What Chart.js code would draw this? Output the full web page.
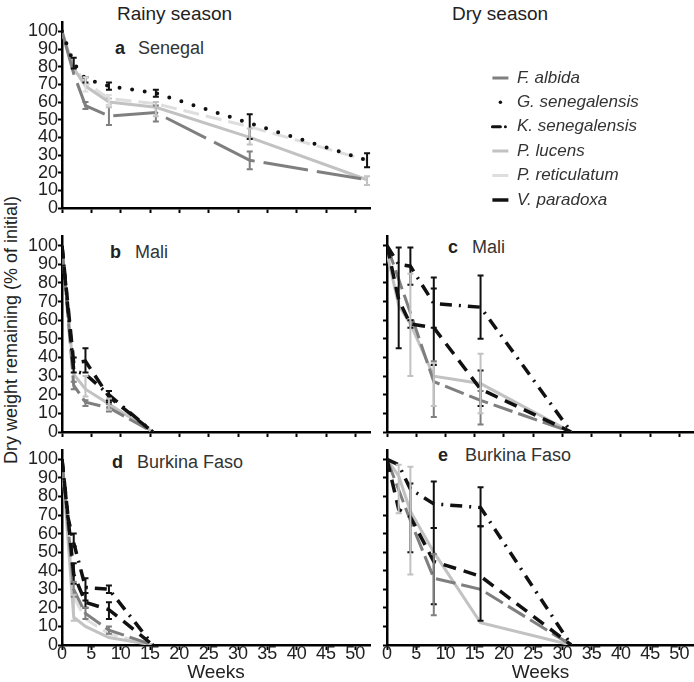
<!DOCTYPE html>
<html><head><meta charset="utf-8">
<script src="https://cdn.jsdelivr.net/npm/chart.js@4.4.1/dist/chart.umd.min.js"></script>
<style>
html,body{margin:0;padding:0;background:#fff;width:694px;height:682px;overflow:hidden;}
canvas{position:absolute;}
.t{position:absolute;font-family:'Liberation Sans',Arial,Helvetica,sans-serif;color:#222;white-space:nowrap;line-height:1;}
</style></head><body>
<div class="t" style="left:117px;top:4px;font-size:19px">Rainy season</div>
<div class="t" style="left:452px;top:4px;font-size:19px">Dry season</div>
<div class="t" style="left:11px;top:330px;font-size:18px;transform:translate(-50%,-50%) rotate(-90deg)">Dry weight remaining (% of initial)</div>
<div class="t" style="left:115px;top:39px;font-size:18px"><b>a</b></div>
<div class="t" style="left:138px;top:39px;font-size:18px;color:#333">Senegal</div>
<div class="t" style="left:110px;top:243px;font-size:18px"><b>b</b></div>
<div class="t" style="left:135px;top:243px;font-size:18px;color:#333">Mali</div>
<div class="t" style="left:448px;top:238px;font-size:18px"><b>c</b></div>
<div class="t" style="left:472px;top:238px;font-size:18px;color:#333">Mali</div>
<div class="t" style="left:112px;top:453px;font-size:18px"><b>d</b></div>
<div class="t" style="left:137px;top:453px;font-size:18px;color:#333">Burkina Faso</div>
<div class="t" style="left:438px;top:446px;font-size:18px"><b>e</b></div>
<div class="t" style="left:465px;top:446px;font-size:18px;color:#333">Burkina Faso</div>

<canvas id="pa" width="382" height="206.5" style="left:0;top:10px"></canvas>
<canvas id="pb" width="382" height="216" style="left:0;top:224px"></canvas>
<canvas id="pc" width="319" height="216" style="left:375px;top:224px"></canvas>
<canvas id="pd" width="382" height="244" style="left:0;top:438px"></canvas>
<canvas id="pe" width="319" height="244" style="left:375px;top:438px"></canvas>
<canvas id="lg" width="360" height="170" style="left:485px;top:62px"></canvas>

<script>
// ---------------- DATA ----------------
const speciesNames = ['F. albida', 'G. senegalensis', 'K. senegalensis', 'P. lucens', 'P. reticulatum', 'V. paradoxa'];
const yTickValues = [0, 10, 20, 30, 40, 50, 60, 70, 80, 90, 100];
const xTickValues = [0, 5, 10, 15, 20, 25, 30, 35, 40, 45, 50];

// a  Senegal, rainy season
const weeksA = [0, 2, 4, 8, 16, 32, 52];
const aFalbida       = [100, 76, 58, 52, 54, 27, 16];
const aGsenegalensis = [100, 82, 73, 69, 65, 48, 27];
const aPlucens       = [100, 79, 69, 60, 57, 40, 16];
const aPreticulatum  = [100, 80, 71, 62, 59, 46, 27];
const aFalbidaErr       = [null, null, [56, 60], [47, 58], [49, 58], [22, 32], null];
const aGsenegalensisErr = [null, [79, 85], [71, 74], [67, 71], [63, 67], [39, 53], [23, 31]];
const aPlucensErr       = [null, null, null, [57, 62], [52, 60], [36, 45], [13, 18]];
const aPreticulatumErr  = [null, null, [66, 74], [58, 64], null, null, null];

// b  Mali, rainy season
const weeksB = [0, 2, 4, 8, 15.5];
const bFalbida       = [100, 25, 16, 13, 0];
const bKsenegalensis = [100, 33, 31, 20, 0];
const bPlucens       = [100, 31, 23, 15, 0];
const bVparadoxa     = [100, 37, 38, 19, 0];
const bFalbidaErr       = [null, [23, 27], [14, 17], [11, 15], null];
const bKsenegalensisErr = [null, null, null, [16, 22], null];
const bPlucensErr       = [null, null, [19, 30], [12, 18], null];
const bVparadoxaErr     = [null, [32, 40], [32, 45], [17, 22], null];

// c  Mali, dry season
const weeksC = [0, 2, 4, 8, 16, 31.5];
const cFalbida       = [100, 82, 64, 27, 17, 0];
const cKsenegalensis = [100, 90, 89, 69, 67, 0];
const cPlucens       = [96, 68, 58, 30, 26, 0];
const cVparadoxa     = [100, 71, 58, 56, 23, 0];
const cFalbidaErr       = [null, null, null, [8, 38], [4, 22], null];
const cKsenegalensisErr = [null, null, [79, 99], [56, 83], [50, 84], null];
const cPlucensErr       = [null, null, [30, 85], [14, 37], [10, 42], null];
const cVparadoxaErr     = [null, [45, 99], [56, 60], [36, 77], [14, 33], null];

// d  Burkina Faso, rainy season
const weeksD = [0, 1, 2, 4, 8, 15.5];
const dFalbida       = [100, null, 30, 17, 8, 0];
const dKsenegalensis = [100, 69, 55, 31, 30, 0];
const dPlucens       = [100, null, 15, 10, 4, 0];
const dPreticulatum  = [100, null, 26, 14, 6, 0];
const dVparadoxa     = [100, 70, 38, 23, 19, 0];
const dFalbidaErr       = [null, null, [26, 34], [14, 20], [6, 10], null];
const dKsenegalensisErr = [null, null, [53, 60], [24, 36], [28, 32], null];
const dPlucensErr       = [null, null, [13, 27], null, null, null];
const dPreticulatumErr  = [null, null, null, null, null, null];
const dVparadoxaErr     = [null, null, [33, 44], [20, 28], [14, 23], null];

// e  Burkina Faso, dry season
const weeksE = [0, 2, 4, 8, 16, 31.5];
const eFalbida       = [100, null, 67, 36, 30, 0];
const eKsenegalensis = [100, 97, 84, 76, 74, 0];
const ePlucens       = [100, 91, 72, 50, 12, 0];
const eVparadoxa     = [100, 73, 69, 45, 37, 0];
const eFalbidaErr       = [null, null, null, [16, 49], null, null];
const eKsenegalensisErr = [null, null, null, [63, 88], [64, 85], null];
const ePlucensErr       = [null, [71, 97], [38, 96], null, null, null];
const eVparadoxaErr     = [null, null, [50, 87], [22, 63], [13, 64], null];

// ---------------- STYLES ----------------
const FONT = "'Liberation Sans', Arial, Helvetica, sans-serif";
const STYLE = {
  'F. albida':       {borderColor: '#7f7f7f', borderWidth: 3,   borderDash: [20, 6]},
  'G. senegalensis': {borderColor: '#111111', borderWidth: 4,   borderDash: [0, 12.7], borderCapStyle: 'round'},
  'K. senegalensis': {borderColor: '#111111', borderWidth: 3.5, borderDash: [12, 7, 2, 7]},
  'P. lucens':       {borderColor: '#c2c2c2', borderWidth: 3,   borderDash: []},
  'P. reticulatum':  {borderColor: '#dedede', borderWidth: 3,   borderDash: [16, 7]},
  'V. paradoxa':     {borderColor: '#111111', borderWidth: 3.5, borderDash: [13, 8]}
};
const LEGEND_MARK = {
  'F. albida':       {pointStyle: 'line', lineWidth: 3, lineDash: [], lineCap: 'butt'},
  'G. senegalensis': {pointStyle: 'line', lineWidth: 3.5, lineDash: [0, 40], lineDashOffset: -8, lineCap: 'round'},
  'K. senegalensis': {pointStyle: 'line', lineWidth: 3, lineDash: [8, 5, 0, 20], lineCap: 'round'},
  'P. lucens':       {pointStyle: 'line', lineWidth: 3, lineDash: [], lineCap: 'butt'},
  'P. reticulatum':  {pointStyle: 'line', lineWidth: 3, lineDash: [], lineCap: 'butt'},
  'V. paradoxa':     {pointStyle: 'line', lineWidth: 3.5, lineDash: [], lineCap: 'butt'}
};

function makeDataset(name, weeks, values, errs, extra) {
  const pts = [];
  weeks.forEach((w, i) => { if (values[i] !== null) pts.push({x: w, y: values[i]}); });
  const bars = [];
  if (errs) weeks.forEach((w, i) => { if (errs[i]) bars.push({x: w, lo: errs[i][0], hi: errs[i][1]}); });
  return Object.assign({label: name, data: pts, errorBars: bars, pointRadius: 0, pointHoverRadius: 0,
    tension: 0, fill: false}, STYLE[name], extra || {});
}

const errorBarPlugin = {
  id: 'errorBars',
  afterDatasetsDraw(chart) {
    const ctx = chart.ctx, xs = chart.scales.x, ys = chart.scales.y;
    chart.data.datasets.forEach(d => {
      (d.errorBars || []).forEach(e => {
        const x = xs.getPixelForValue(e.x), y1 = ys.getPixelForValue(e.lo), y2 = ys.getPixelForValue(e.hi);
        ctx.save();
        ctx.strokeStyle = d.borderColor; ctx.lineWidth = 2; ctx.setLineDash([]);
        ctx.beginPath();
        ctx.moveTo(x, y1); ctx.lineTo(x, y2);
        ctx.moveTo(x - 3, y1); ctx.lineTo(x + 3, y1);
        ctx.moveTo(x - 3, y2); ctx.lineTo(x + 3, y2);
        ctx.stroke();
        ctx.restore();
      });
    });
  }
};

function xAxis(showLabels, height) {
  return {
    type: 'linear', min: 0, max: 52.5,
    afterBuildTicks: s => { s.ticks = xTickValues.map(v => ({value: v})); },
    afterFit: s => { s.height = height; s.paddingLeft = 0; s.paddingRight = 0; },
    border: {display: true, color: '#000', width: 2.5},
    grid: {drawOnChartArea: false, drawTicks: true, tickLength: 5, tickColor: '#000', tickWidth: 2, color: '#000'},
    ticks: {display: showLabels, padding: -5, autoSkip: false, maxRotation: 0, color: '#222',
      font: {family: FONT, size: 18, lineHeight: 1}},
    title: {display: showLabels, text: 'Weeks', color: '#222', padding: {top: 0, bottom: 0},
      font: {family: FONT, size: 19, lineHeight: 1}}
  };
}
function yAxis(showLabels, width) {
  return {
    type: 'linear', min: 0, max: 105,
    afterBuildTicks: s => { s.ticks = yTickValues.map(v => ({value: v})); },
    afterFit: s => { s.width = width; s.paddingTop = 0; s.paddingBottom = 0; },
    border: {display: true, color: '#000', width: 2.5},
    grid: {drawOnChartArea: false, drawTicks: true, tickLength: 4, tickColor: '#000', tickWidth: 2, color: '#000'},
    ticks: {display: showLabels, padding: 0, autoSkip: false, color: '#222',
      font: {family: FONT, size: 18, lineHeight: 1}}
  };
}

function panel(id, datasets, showX, xH, showY, yW, padTop, padRight) {
  return new Chart(document.getElementById(id), {
    type: 'line',
    data: {datasets},
    plugins: [errorBarPlugin],
    options: {
      responsive: false, animation: false, devicePixelRatio: 1,
      layout: {padding: {top: padTop, right: padRight, left: 0, bottom: 0}},
      plugins: {legend: {display: false}, tooltip: {enabled: false}},
      scales: {x: xAxis(showX, xH), y: yAxis(showY, yW)}
    }
  });
}

panel('pa', [
  makeDataset('G. senegalensis', weeksA, aGsenegalensis, aGsenegalensisErr),
  makeDataset('F. albida', weeksA, aFalbida, aFalbidaErr, {borderDash: [45, 9]}),
  makeDataset('P. lucens', weeksA, aPlucens, aPlucensErr),
  makeDataset('P. reticulatum', weeksA, aPreticulatum, aPreticulatumErr)
], false, 8, true, 62, 12.5, 12);

panel('pb', [
  makeDataset('V. paradoxa', weeksB, bVparadoxa, bVparadoxaErr),
  makeDataset('K. senegalensis', weeksB, bKsenegalensis, bKsenegalensisErr),
  makeDataset('F. albida', weeksB, bFalbida, bFalbidaErr),
  makeDataset('P. lucens', weeksB, bPlucens, bPlucensErr)
], false, 8, true, 62, 12.4, 12);

panel('pc', [
  makeDataset('V. paradoxa', weeksC, cVparadoxa, cVparadoxaErr),
  makeDataset('K. senegalensis', weeksC, cKsenegalensis, cKsenegalensisErr),
  makeDataset('F. albida', weeksC, cFalbida, cFalbidaErr),
  makeDataset('P. lucens', weeksC, cPlucens, cPlucensErr)
], false, 8, false, 12, 12.4, 0);

panel('pd', [
  makeDataset('V. paradoxa', weeksD, dVparadoxa, dVparadoxaErr),
  makeDataset('K. senegalensis', weeksD, dKsenegalensis, dKsenegalensisErr),
  makeDataset('F. albida', weeksD, dFalbida, dFalbidaErr),
  makeDataset('P. lucens', weeksD, dPlucens, dPlucensErr),
  makeDataset('P. reticulatum', weeksD, dPreticulatum, dPreticulatumErr)
], true, 37, true, 62, 12, 12);

panel('pe', [
  makeDataset('V. paradoxa', weeksE, eVparadoxa, eVparadoxaErr),
  makeDataset('K. senegalensis', weeksE, eKsenegalensis, eKsenegalensisErr),
  makeDataset('F. albida', weeksE, eFalbida, eFalbidaErr),
  makeDataset('P. lucens', weeksE, ePlucens, ePlucensErr)
], true, 37, false, 12, 12, 0);

// legend (species key)
new Chart(document.getElementById('lg'), {
  type: 'line',
  data: {datasets: speciesNames.map(n => Object.assign({label: n, data: []}, STYLE[n]))},
  options: {
    responsive: false, animation: false, devicePixelRatio: 1,
    layout: {padding: 0},
    scales: {x: {display: false}, y: {display: false}},
    plugins: {
      tooltip: {enabled: false},
      legend: {
        position: 'left', align: 'start',
        labels: {
          usePointStyle: true, pointStyleWidth: 16, boxHeight: 2.5, padding: 7.4,
          color: '#333', font: {family: FONT, size: 17, style: 'italic'},
          generateLabels: chart => chart.data.datasets.map((d, i) => Object.assign({
            text: d.label, fillStyle: d.borderColor, strokeStyle: d.borderColor,
            hidden: false, datasetIndex: i, fontColor: '#333'
          }, LEGEND_MARK[d.label]))
        }
      }
    }
  }
});
</script>
</body></html>
